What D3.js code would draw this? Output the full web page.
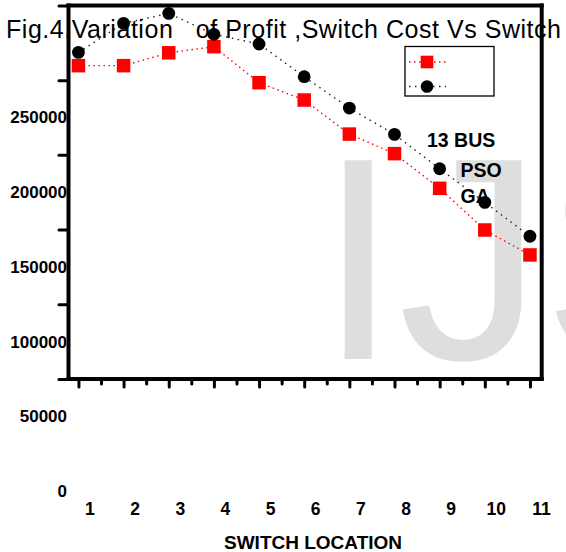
<!DOCTYPE html>
<meta charset="utf-8">
<style>
body { margin: 0; background: #fff; }
svg { display: block; font-family: "Liberation Sans", Arial, sans-serif; }
.axis path { display: none; }
.axis line { stroke: #000; stroke-width: 3px; stroke-linecap: round; }
.axis text { font-weight: bold; fill: #000; font-family: "Liberation Sans", Arial, sans-serif; }
.frame { stroke: #000; stroke-width: 4px; stroke-linecap: square; }
</style>

<svg width="566" height="552"></svg>

<script src="https://d3js.org/d3.v7.min.js"></script>
<script>

// switch locations on the x axis
var switchLocations = [1, 2, 3, 4, 5, 6, 7, 8, 9, 10, 11];

// red squares
var redSeries = [284700, 284700, 293300, 297400, 273300, 261700, 238900, 225800, 202600, 174700, 158000];
// black circles
var blackSeries = [293600, 313000, 319700, 305700, 299200, 277300, 256300, 238700, 215700, 193200, 170500];

// y labels as printed, and the tick marks (they sit half a step off the labels)
var yLabels = [0, 50000, 100000, 150000, 200000, 250000];
var yTicks = [75000, 125000, 175000, 225000, 275000, 325000];

var titleText = "Fig.4.Variation   of Profit ,Switch Cost Vs Switch";
var xTitle = "SWITCH LOCATION";
var notes = ["13 BUS", "PSO", "GA"];

var svg = d3.select("svg");

var plotLeft = 68.5, plotRight = 541.7;

var x = d3.scaleLinear().domain([0.78, 11.26]).range([plotLeft, plotRight]);
var y = d3.scaleLinear().domain([0, 250000]).range([491, 117.5]);

var plotTop = y(325000),
    plotBottom = y(75000);

// watermark behind everything
svg.append("text")
    .attr("x", 318)
    .attr("y", 359)
    .attr("font-size", 289)
    .attr("fill", "#dedede")
    .text("IJS");

// y labels (drawn under the axis line, last digit gets covered)
svg.append("g")
    .attr("class", "axis")
    .attr("transform", "translate(" + (plotLeft - 1.5) + ",0)")
    .call(d3.axisLeft(y).tickValues(yLabels).tickSize(0).tickPadding(0).tickFormat(d3.format("d")))
    .attr("font-size", 17)
    .call(function(g) { g.selectAll(".tick line").remove(); });

// y tick marks
svg.append("g")
    .attr("class", "axis")
    .attr("transform", "translate(" + plotLeft + ",0)")
    .call(d3.axisLeft(y).tickValues(yTicks).tickSize(9.5).tickFormat(""));

// x tick marks, major + minor
var minorTicks = d3.pairs(switchLocations).map(function(p) { return (p[0] + p[1]) / 2; });

svg.append("g")
    .attr("class", "axis")
    .attr("transform", "translate(0," + plotBottom + ")")
    .call(d3.axisBottom(x).tickValues(switchLocations).tickSize(8).tickFormat(""));

svg.append("g")
    .attr("class", "axis")
    .attr("transform", "translate(0," + plotBottom + ")")
    .call(d3.axisBottom(x).tickValues(minorTicks).tickSize(5).tickFormat(""));

// x labels, printed a bit right of their ticks
svg.append("g")
    .attr("class", "axis")
    .attr("transform", "translate(11,503)")
    .call(d3.axisBottom(x).tickValues(switchLocations).tickSize(0).tickPadding(0))
    .attr("font-size", 17.5)
    .call(function(g) { g.selectAll(".tick line").remove(); });

// frame
svg.append("line").attr("class", "frame")
    .attr("x1", plotLeft).attr("x2", plotLeft).attr("y1", plotTop).attr("y2", plotBottom);
svg.append("line").attr("class", "frame")
    .attr("x1", plotLeft).attr("x2", plotRight).attr("y1", plotBottom).attr("y2", plotBottom);
svg.append("line").attr("class", "frame")
    .attr("x1", plotLeft).attr("x2", plotRight).attr("y1", plotTop).attr("y2", plotTop);
svg.append("line").attr("class", "frame")
    .attr("x1", plotRight).attr("x2", plotRight).attr("y1", plotTop).attr("y2", plotBottom);

// dotted lines
var line = d3.line()
    .x(function(d, i) { return x(switchLocations[i]); })
    .y(function(d) { return y(d); });

svg.append("path")
    .datum(redSeries)
    .attr("d", line)
    .attr("fill", "none")
    .attr("stroke", "#ff0000")
    .attr("stroke-width", 1.4)
    .attr("stroke-dasharray", "1.5,3.5");

svg.append("path")
    .datum(blackSeries)
    .attr("d", line)
    .attr("fill", "none")
    .attr("stroke", "#222")
    .attr("stroke-width", 1.4)
    .attr("stroke-dasharray", "1.5,4.5");

// markers
var sq = 13.5;
svg.append("g").selectAll("rect")
    .data(redSeries)
    .enter().append("rect")
      .attr("x", function(d, i) { return x(switchLocations[i]) - sq / 2; })
      .attr("y", function(d) { return y(d) - sq / 2; })
      .attr("width", sq)
      .attr("height", sq)
      .attr("fill", "#ff0000");

svg.append("g").selectAll("circle")
    .data(blackSeries)
    .enter().append("circle")
      .attr("cx", function(d, i) { return x(switchLocations[i]); })
      .attr("cy", function(d) { return y(d); })
      .attr("r", 6.4)
      .attr("fill", "#000");

// legend box (no labels in it)
var legend = svg.append("g").attr("transform", "translate(405,46.5)");
legend.append("rect")
    .attr("width", 89).attr("height", 49.5)
    .attr("fill", "#fff").attr("stroke", "#000").attr("stroke-width", 1.3);
legend.append("line")
    .attr("x1", 4).attr("x2", 41).attr("y1", 15.5).attr("y2", 15.5)
    .attr("stroke", "#ff0000").attr("stroke-width", 1.4).attr("stroke-dasharray", "1.5,3.5");
legend.append("rect")
    .attr("x", 22 - 6.3).attr("y", 15.5 - 6.3).attr("width", 12.6).attr("height", 12.6)
    .attr("fill", "#ff0000");
legend.append("line")
    .attr("x1", 4).attr("x2", 41).attr("y1", 40).attr("y2", 40)
    .attr("stroke", "#222").attr("stroke-width", 1.4).attr("stroke-dasharray", "1.5,4.5");
legend.append("circle")
    .attr("cx", 22).attr("cy", 40).attr("r", 6.3).attr("fill", "#000");

// notes inside the plot
var notePos = [[427, 147], [460.5, 177], [460.5, 202.5]];
svg.append("g").selectAll("text")
    .data(notes)
    .enter().append("text")
      .attr("x", function(d, i) { return notePos[i][0]; })
      .attr("y", function(d, i) { return notePos[i][1]; })
      .attr("font-size", 19.5)
      .attr("font-weight", "bold")
      .text(function(d) { return d; });

// x axis title
svg.append("text")
    .attr("x", 224)
    .attr("y", 549)
    .attr("font-size", 19)
    .attr("font-weight", "bold")
    .text(xTitle);

// chart title (runs off the right edge in the original)
svg.append("text")
    .attr("x", 6)
    .attr("y", 37.5)
    .attr("font-size", 25)
    .attr("textLength", 555)
    .attr("lengthAdjust", "spacing")
    .style("white-space", "pre")
    .text(titleText);

</script>
